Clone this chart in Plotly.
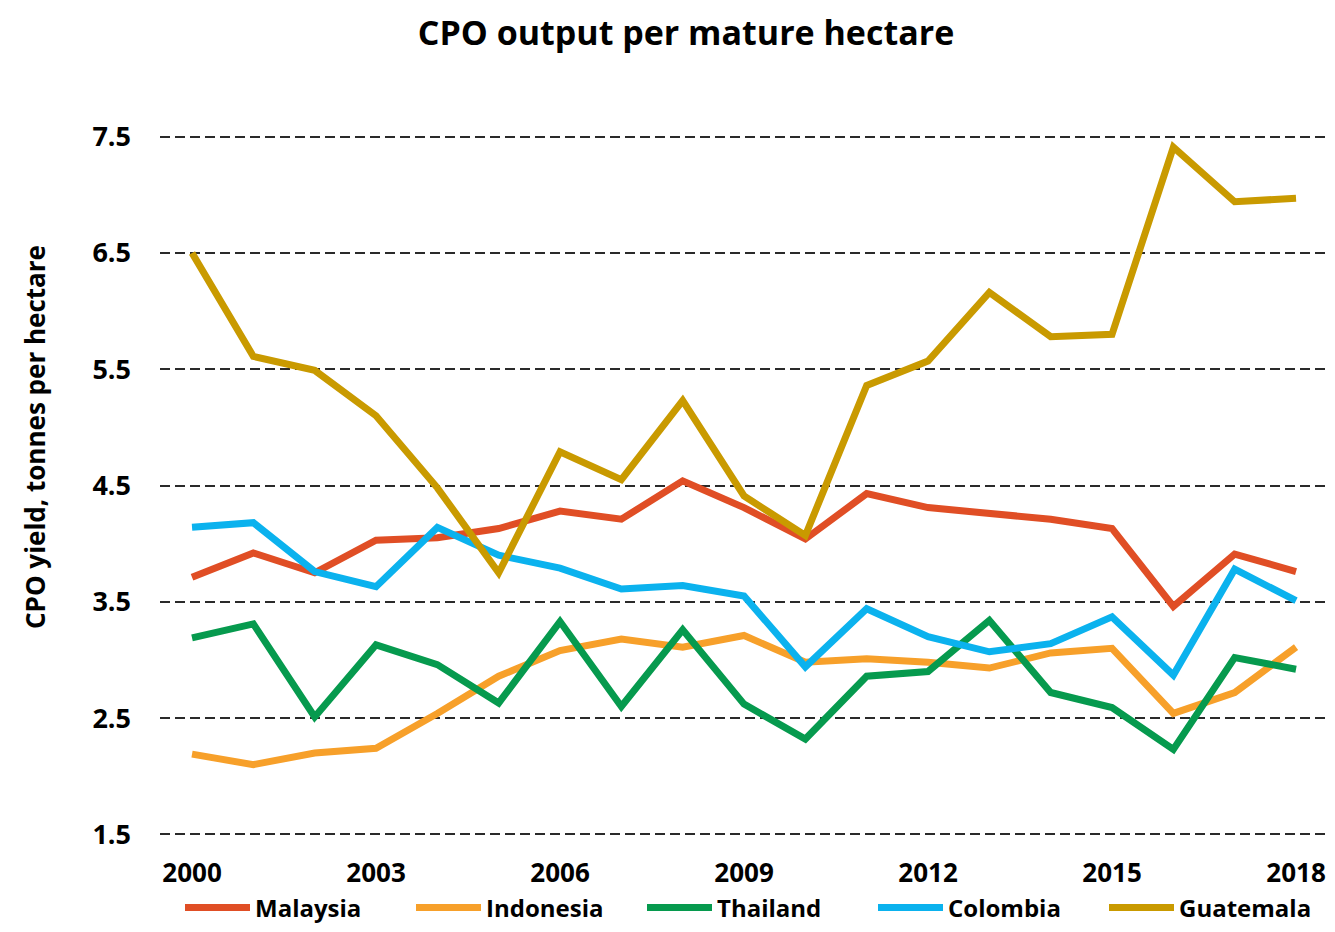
import plotly.graph_objects as go

years = list(range(2000, 2019))
malaysia = [3.71, 3.92, 3.75, 4.03, 4.05, 4.13, 4.28, 4.21, 4.54, 4.31, 4.04, 4.43, 4.31, 4.26, 4.21, 4.13, 3.46, 3.91, 3.76]
indonesia = [2.19, 2.10, 2.20, 2.24, 2.54, 2.86, 3.08, 3.18, 3.11, 3.21, 2.98, 3.01, 2.98, 2.93, 3.06, 3.10, 2.54, 2.72, 3.11]
thailand = [3.19, 3.31, 2.51, 3.13, 2.96, 2.63, 3.33, 2.60, 3.26, 2.62, 2.32, 2.86, 2.90, 3.34, 2.72, 2.59, 2.23, 3.02, 2.92]
colombia = [4.14, 4.18, 3.76, 3.63, 4.14, 3.90, 3.79, 3.61, 3.64, 3.55, 2.94, 3.44, 3.20, 3.07, 3.14, 3.37, 2.87, 3.78, 3.51]
guatemala = [6.50, 5.61, 5.49, 5.10, 4.48, 3.75, 4.79, 4.55, 5.23, 4.41, 4.07, 5.36, 5.57, 6.16, 5.78, 5.80, 7.41, 6.94, 6.97]

series_names = ["Malaysia", "Indonesia", "Thailand", "Colombia", "Guatemala"]
series_values = [malaysia, indonesia, thailand, colombia, guatemala]
colors = ["#E04E25", "#F7A02A", "#069A4E", "#0BB2EE", "#C99A00"]

x_tickvals = [2000, 2003, 2006, 2009, 2012, 2015, 2018]
y_tickvals = [1.5, 2.5, 3.5, 4.5, 5.5, 6.5, 7.5]
y_ticktext = ["1.5", "2.5", "3.5", "4.5", "5.5", "6.5", "7.5"]

FONT = "Open Sans"
W, H = 1319, 916
L, R, T, B = 152, 0, 117, 78
PW, PH = W - L - R, H - T - B

fig = go.Figure()
for name, vals, c in zip(series_names, series_values, colors):
    fig.add_trace(go.Scatter(x=years, y=vals, mode="lines", name=f"<b>{name}</b>",
                             line=dict(color=c, width=7)))

fig.update_layout(
    width=W, height=H,
    paper_bgcolor="white", plot_bgcolor="white",
    margin=dict(l=L, r=R, t=T, b=B, autoexpand=False),
    font=dict(family=FONT, color="black"),
    title=dict(text="<b>CPO output per mature hectare</b>", x=678 / W, xanchor="center",
               y=1 - 25 / H, yanchor="middle", yref="container",
               font=dict(size=34, family=FONT, color="black")),
    showlegend=True,
    legend=dict(orientation="h", x=(172 - L) / PW, xanchor="left",
                y=-(900 - (H - B)) / PH, yanchor="middle",
                font=dict(size=24, family=FONT, color="black"),
                itemwidth=65, entrywidth=151, entrywidthmode="pixels",
                bgcolor="rgba(0,0,0,0)"),
)
fig.update_xaxes(range=[1999.478, 2018.505], tickvals=x_tickvals,
                 ticktext=[f"<b>{v}</b>" for v in x_tickvals],
                 showgrid=False, zeroline=False, showline=False,
                 tickfont=dict(size=26, family=FONT, color="black"),
                 ticklabelstandoff=9)
fig.update_yaxes(range=[1.4, 7.6], tickvals=y_tickvals,
                 ticktext=[f"<b>{t}</b>" for t in y_ticktext],
                 showgrid=True, gridcolor="#2a2a2a", gridwidth=2, griddash="10px,5px",
                 zeroline=False, showline=False,
                 tickfont=dict(size=27, family=FONT, color="black"),
                 ticklabelstandoff=28)
fig.add_annotation(text="<b>CPO yield, tonnes per hectare</b>", textangle=-90,
                   xref="paper", yref="paper", x=-(L - 27) / PW, y=((H - B) - 429) / PH,
                   xanchor="center", yanchor="middle", showarrow=False,
                   font=dict(size=26, family=FONT, color="black"))

fig.write_html("out.html")
